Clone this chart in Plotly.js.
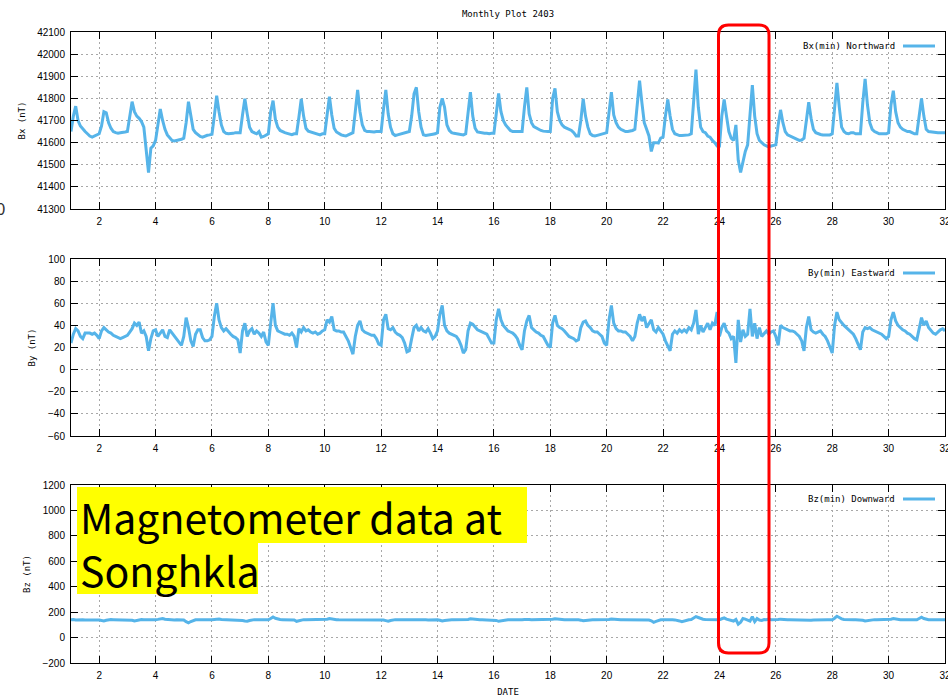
<!DOCTYPE html>
<html>
<head>
<meta charset="utf-8">
<script src="https://cdn.plot.ly/plotly-3.0.1.min.js"></script>
<style>html,body{margin:0;padding:0;background:#fff;}#chart{width:948px;height:698px;}</style>
</head>
<body>
<div id="chart"></div>
<script>
// ---- data (2-hourly samples) ----
const startDay = 1;
const samplesPerDay = 12;
const xTickVals = [2,4,6,8,10,12,14,16,18,20,22,24,26,28,30,32];
const seriesNames = ['Bx(min) Northward', 'By(min) Eastward', 'Bz(min) Downward'];
const axisTitles = ['Bx (nT)', 'By (nT)', 'Bz (nT)'];

const bxValues = [
41650,41720,41765,41700,41675,41660,41650,41640,41630,41625,41630,41638,
41640,41675,41740,41735,41690,41665,41650,41645,41643,41645,41645,41648,
41650,41710,41785,41740,41720,41710,41695,41670,41560,41465,41575,41585,
41610,41680,41752,41700,41660,41635,41620,41610,41608,41610,41612,41615,
41620,41690,41785,41720,41660,41645,41635,41628,41625,41630,41633,41635,
41638,41720,41812,41740,41680,41650,41642,41640,41640,41642,41645,41645,
41645,41725,41798,41730,41670,41650,41645,41640,41650,41625,41628,41635,
41640,41740,41790,41705,41670,41655,41648,41645,41642,41638,41636,41640,
41640,41715,41798,41720,41665,41652,41648,41645,41640,41637,41635,41640,
41640,41725,41808,41725,41665,41648,41640,41635,41632,41630,41635,41640,
41645,41740,41838,41740,41680,41655,41650,41650,41648,41648,41650,41650,
41650,41750,41838,41730,41670,41640,41632,41635,41638,41640,41645,41648,
41650,41720,41820,41850,41740,41670,41635,41632,41635,41635,41638,41640,
41645,41760,41800,41760,41680,41655,41645,41642,41640,41638,41635,41635,
41640,41730,41828,41720,41665,41648,41645,41643,41642,41642,41640,41642,
41642,41730,41822,41740,41700,41680,41665,41655,41650,41650,41650,41650,
41650,41760,41850,41730,41690,41672,41665,41658,41655,41652,41650,41650,
41650,41800,41845,41740,41700,41680,41670,41665,41660,41655,41645,41630,
41630,41700,41798,41720,41670,41640,41632,41630,41633,41635,41640,41642,
41645,41730,41828,41725,41690,41670,41660,41655,41650,41650,41652,41655,
41660,41780,41880,41780,41690,41660,41630,41560,41600,41600,41598,41620,
41625,41720,41795,41720,41660,41640,41635,41632,41632,41632,41632,41635,
41640,41800,41930,41760,41670,41650,41645,41630,41625,41610,41600,41585,
41585,41720,41795,41720,41650,41620,41610,41680,41520,41465,41520,41560,
41590,41720,41860,41720,41640,41610,41600,41590,41585,41580,41585,41588,
41590,41680,41748,41690,41650,41635,41630,41622,41618,41612,41610,41612,
41620,41700,41783,41710,41660,41645,41640,41637,41635,41635,41635,41635,
41640,41760,41870,41760,41670,41650,41642,41640,41645,41645,41640,41640,
41640,41780,41888,41770,41690,41660,41650,41645,41640,41640,41640,41640,
41645,41770,41835,41740,41690,41670,41660,41655,41650,41650,41645,41640,
41640,41730,41800,41720,41660,41650,41648,41646,41645,41645,41645,41645,
41645];

const byValues = [
24,32,37,35,30,28,33,33,33,32,33,31,
28,35,38,36,34,33,31,30,29,28,29,30,
31,34,37,42,40,43,33,35,30,17,28,35,
36,30,33,36,30,29,36,33,31,27,24,22,
30,47,38,26,21,32,36,36,29,26,26,27,
30,48,60,45,38,35,37,34,32,30,29,27,
15,35,42,30,35,37,32,35,33,30,34,25,
22,42,60,40,35,34,33,32,32,31,33,30,
20,37,34,38,35,36,34,33,34,32,33,35,
36,45,43,48,36,35,35,34,34,30,26,20,
14,30,40,44,36,34,33,32,31,31,28,23,
22,45,50,37,36,38,34,32,31,29,24,16,
17,28,38,40,35,38,35,34,37,33,28,30,
35,50,58,40,35,33,32,31,30,27,22,15,
18,35,42,41,38,36,35,34,33,32,28,24,
24,45,55,45,40,37,35,34,33,31,28,22,
18,35,44,49,38,36,34,33,31,30,26,22,
20,42,49,40,38,37,35,32,30,29,28,26,
27,38,43,44,40,38,35,34,34,32,30,24,
22,45,58,42,37,35,35,34,34,32,30,26,
30,42,50,44,48,38,42,45,36,34,38,35,
32,26,22,17,32,35,33,36,34,36,34,38,
36,42,54,32,40,34,38,42,36,42,40,52,
30,38,42,35,33,28,30,6,45,25,36,30,
32,55,30,42,28,38,30,33,35,32,34,35,
30,22,40,38,37,36,35,35,34,32,30,26,
17,38,48,36,34,33,34,35,32,30,26,20,
15,40,52,45,42,40,38,36,34,32,28,22,
18,34,38,37,38,36,35,34,33,32,30,28,
30,45,52,44,40,38,36,35,33,32,30,28,
27,36,47,40,44,38,35,33,32,34,36,37,
35];

const bzValues = [
140,142,138,140,141,140,139,140,141,140,140,139,
138,134,130,136,140,142,141,140,141,140,140,141,
140,138,136,130,135,140,142,141,140,141,140,138,
140,143,146,150,144,142,141,140,139,141,140,140,
138,125,116,126,135,140,140,141,140,140,141,140,
140,142,144,146,142,141,140,140,139,140,140,140,
138,134,130,128,134,140,141,140,140,138,140,140,
140,150,162,152,145,142,141,140,140,140,141,138,
128,134,140,141,140,140,140,140,141,140,140,140,
140,144,150,146,142,141,140,140,139,140,140,140,
140,141,142,140,140,141,140,139,140,140,140,140,
140,138,133,128,134,140,141,140,140,141,140,140,
140,142,145,143,141,140,140,140,139,140,140,140,
140,136,130,134,138,140,141,140,140,140,141,140,
140,143,147,144,141,140,140,141,140,140,140,140,
140,135,128,132,138,140,140,141,140,140,140,140,
140,142,144,142,140,140,141,140,140,140,139,140,
140,144,148,145,142,140,140,140,141,140,140,140,
140,137,132,135,139,140,141,140,140,140,140,140,
140,142,146,143,141,140,140,140,140,139,140,140,
140,141,140,140,141,140,138,132,120,128,136,140,
140,141,140,141,140,139,137,131,125,132,138,140,
142,152,165,158,148,144,143,142,141,142,141,140,
140,148,155,145,140,136,130,142,105,120,150,145,
140,130,165,125,150,138,135,142,140,145,141,140,
140,142,145,142,140,140,141,140,140,140,140,140,
140,137,133,136,139,140,140,140,141,140,140,140,
140,152,168,158,147,143,141,140,140,140,140,140,
140,136,130,134,138,140,141,140,140,140,140,140,
140,145,150,146,142,140,140,140,140,140,140,140,
140,150,160,150,143,140,140,140,139,140,140,140,
140];

// ---- build ----
const times = bxValues.map((_, i) => startDay + i / samplesPerDay);
const lineColor = '#56B4E9';

// pixel helpers for the frame
const L = 71, R = 945, T = 32, B = 663;
const pxX = x => (x - L) / (R - L);
const pxY = y => (B - y) / (B - T);

const mono = 'DejaVu Sans Mono, monospace';
const sans = 'Liberation Sans, Arial, sans-serif';

function mk(vals, xa, ya) {
  return {type: 'scatter', mode: 'lines', x: times, y: vals, xaxis: xa, yaxis: ya,
    line: {color: lineColor, width: 3}, hoverinfo: 'x+y'};
}
const data = [mk(bxValues, 'x', 'y'), mk(byValues, 'x2', 'y2'), mk(bzValues, 'x3', 'y3')];

const common = {
  showline: true, linecolor: '#000', linewidth: 1, mirror: 'ticks',
  ticks: 'inside', ticklen: 7, tickcolor: '#000', tickwidth: 1,
  showgrid: true, gridcolor: '#a8a8a8', gridwidth: 1, griddash: '2px,3px',
  zeroline: false, tickfont: {family: sans, size: 10, color: '#000'},
  ticklabeloverflow: 'allow'
};
function xa(anchor, withTitle) {
  const o = Object.assign({}, common, {anchor: anchor, domain: [0, 1], range: [1, 32],
    tickmode: 'array', tickvals: xTickVals, ticktext: xTickVals.map(String), ticklabelstandoff: 3});
  if (withTitle) o.title = {text: 'DATE', font: {family: mono, size: 9, color: '#000'}, standoff: 8};
  return o;
}
function ya(anchor, dom, range, dtick, title) {
  return Object.assign({}, common, {anchor: anchor, domain: dom, range: range, dtick: dtick,
    tick0: range[0], tickformat: 'd', ticklabelstandoff: 3,
    title: {text: title, font: {family: mono, size: 9, color: '#000'}, standoff: 10}});
}

// red rounded rectangle
const rx0 = pxX(718.5), rx1 = pxX(769), ryT = pxY(25), ryB = pxY(653);
const cx = 10 / (R - L), cy = 10 / (B - T);
const redPath = `M ${rx0+cx},${ryT} L ${rx1-cx},${ryT} Q ${rx1},${ryT} ${rx1},${ryT-cy} L ${rx1},${ryB+cy} Q ${rx1},${ryB} ${rx1-cx},${ryB} L ${rx0+cx},${ryB} Q ${rx0},${ryB} ${rx0},${ryB+cy} L ${rx0},${ryT-cy} Q ${rx0},${ryT} ${rx0+cx},${ryT} Z`;

const legendY = [46, 273, 499];
const shapes = [
  {type: 'rect', xref: 'paper', yref: 'paper', x0: pxX(77), x1: pxX(527), y0: pxY(543), y1: pxY(487),
   fillcolor: '#FFFF00', line: {width: 0}, layer: 'above'},
  {type: 'rect', xref: 'paper', yref: 'paper', x0: pxX(77), x1: pxX(258), y0: pxY(594), y1: pxY(543),
   fillcolor: '#FFFF00', line: {width: 0}, layer: 'above'},
  {type: 'path', xref: 'paper', yref: 'paper', path: redPath, line: {color: '#FF0000', width: 3}, layer: 'above'}
];
legendY.forEach(y => shapes.push({type: 'line', xref: 'paper', yref: 'paper',
  x0: pxX(903), x1: pxX(935), y0: pxY(y), y1: pxY(y), line: {color: lineColor, width: 3}, layer: 'above'}));

const annotations = seriesNames.map((n, i) => ({
  text: n, xref: 'paper', yref: 'paper', x: pxX(897), y: pxY(legendY[i]), xanchor: 'right', yanchor: 'middle',
  showarrow: false, font: {family: mono, size: 9, color: '#000'}
}));
annotations.push({text: 'Magnetometer data at<br>Songhkla', xref: 'paper', yref: 'paper', x: pxX(78), y: pxY(542.5),
  xanchor: 'left', yanchor: 'middle', align: 'left', showarrow: false,
  font: {family: 'Noto Sans CJK JP, Noto Sans, sans-serif', size: 41, color: '#000'}});
annotations.push({text: '0', xref: 'paper', yref: 'paper', x: pxX(0), y: pxY(207),
  xanchor: 'center', yanchor: 'middle', showarrow: false,
  font: {family: 'Noto Sans CJK JP, sans-serif', size: 17, color: '#333'}});

const layout = {
  width: 948, height: 698,
  margin: {l: L, r: 948 - R, t: T, b: 698 - B, pad: 0},
  paper_bgcolor: '#fff', plot_bgcolor: '#fff',
  showlegend: false,
  title: {text: 'Monthly Plot 2403', font: {family: mono, size: 9, color: '#000'},
    xref: 'paper', x: 0.5, xanchor: 'center', yref: 'container', y: 1 - 14 / 698, yanchor: 'middle'},
  xaxis: xa('y', false),
  xaxis2: xa('y2', false),
  xaxis3: xa('y3', true),
  yaxis: ya('x', [pxY(209), pxY(32)], [41300, 42100], 100, axisTitles[0]),
  yaxis2: ya('x2', [pxY(436), pxY(259)], [-60, 100], 20, axisTitles[1]),
  yaxis3: ya('x3', [pxY(663), pxY(485)], [-200, 1200], 200, axisTitles[2]),
  shapes: shapes,
  annotations: annotations
};

Plotly.newPlot('chart', data, layout, {displayModeBar: false, staticPlot: true});
</script>
</body>
</html>
